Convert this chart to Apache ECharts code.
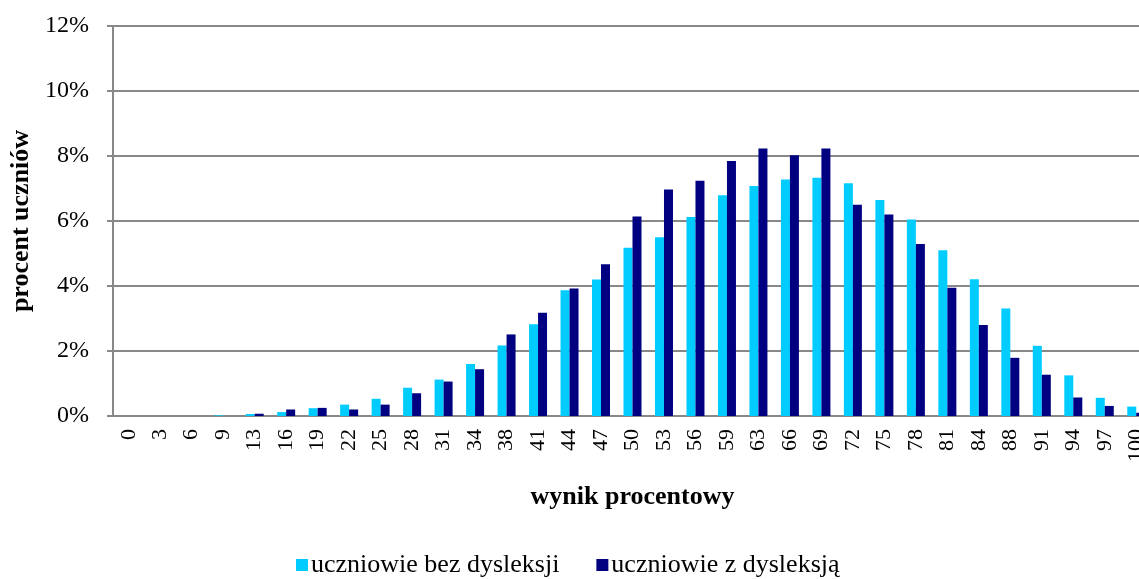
<!DOCTYPE html>
<html><head><meta charset="utf-8">
<script src="https://cdn.jsdelivr.net/npm/echarts@6/dist/echarts.min.js"></script>
<style>html,body{margin:0;padding:0;background:#fff;overflow:hidden;width:1139px;height:579px}#c{width:1152px;height:579px}</style>
</head><body><div id="c"></div>
<script>
const categories = ['0','3','6','9','13','16','19','22','25','28','31','34','38','41','44','47','50','53','56','59','63','66','69','72','75','78','81','84','88','91','94','97','100'];
const bezDysleksji = [0,0,0,0.02,0.06,0.12,0.24,0.35,0.53,0.87,1.12,1.6,2.17,2.82,3.87,4.2,5.18,5.5,6.12,6.79,7.08,7.28,7.33,7.16,6.65,6.05,5.1,4.21,3.31,2.16,1.25,0.56,0.29];
const zDysleksja = [0,0,0,0,0.07,0.2,0.25,0.2,0.35,0.7,1.06,1.44,2.51,3.18,3.92,4.67,6.14,6.97,7.24,7.85,8.23,8.02,8.23,6.5,6.2,5.29,3.95,2.8,1.79,1.27,0.57,0.31,0.1];
const seriesNames = ['uczniowie bez dysleksji','uczniowie z dysleksją'];
const yTicks = {min:0, max:12, interval:2};

const font = 'Liberation Serif, Times New Roman, serif';
const chart = echarts.init(document.getElementById('c'));
chart.setOption({
  animation:false,
  textStyle:{fontFamily:font},
  grid:{left:113, top:26, bottom:163, right:0, containLabel:false},
  legend:{bottom:-4, left:291, itemWidth:12, itemHeight:12, itemGap:37,
    icon:'rect',
    textStyle:{fontFamily:font, fontSize:26, color:'#000', padding:[0,0,0,-2]},
    data:seriesNames},
  xAxis:{type:'category', data:categories,
    axisLine:{lineStyle:{color:'#888', width:2}},
    axisTick:{show:false},
    axisLabel:{rotate:90, interval:0, fontFamily:font, fontSize:22, color:'#000', margin:13},
    name:'wynik procentowy', nameLocation:'middle', nameGap:68,
    nameTextStyle:{fontFamily:font, fontSize:26, fontWeight:'bold', color:'#000'}},
  yAxis:{type:'value', min:yTicks.min, max:yTicks.max, interval:yTicks.interval,
    axisLine:{show:true, lineStyle:{color:'#888', width:2}},
    axisTick:{show:true, length:6, lineStyle:{color:'#888', width:2}},
    splitLine:{lineStyle:{color:'#888', width:2}},
    axisLabel:{formatter:v=>v+'%', fontFamily:font, fontSize:24, color:'#000', margin:24},
    name:'procent uczniów', nameLocation:'middle', nameGap:79,
    nameTextStyle:{fontFamily:font, fontSize:26, fontWeight:'bold', color:'#000'}},
  series:[
    {name:seriesNames[0], type:'bar', data:bezDysleksji, barWidth:9, barGap:'0%',
      itemStyle:{color:'#00CCFF'}},
    {name:seriesNames[1], type:'bar', data:zDysleksja, barWidth:9, barGap:'0%',
      itemStyle:{color:'#000080'}}
  ]
});
</script></body></html>
